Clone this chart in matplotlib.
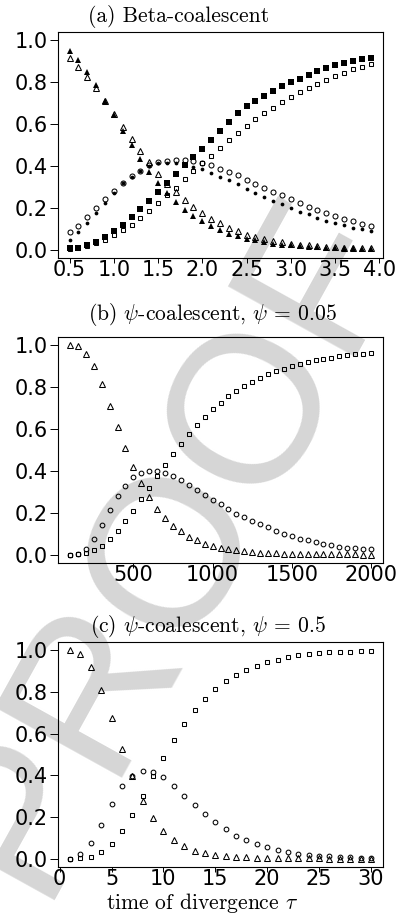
import matplotlib
matplotlib.use("Agg")
import matplotlib.pyplot as plt

# (a) Beta-coalescent
tau_a = [0.5, 0.6, 0.7, 0.8, 0.9, 1.0, 1.1, 1.2, 1.3, 1.4, 1.5, 1.6, 1.7, 1.8, 1.9,
         2.0, 2.1, 2.2, 2.3, 2.4, 2.5, 2.6, 2.7, 2.8, 2.9, 3.0, 3.1, 3.2, 3.3, 3.4,
         3.5, 3.6, 3.7, 3.8, 3.9]
tri_fill_a = [0.947, 0.904, 0.849, 0.785, 0.712, 0.642, 0.568, 0.498, 0.432, 0.373,
              0.318, 0.270, 0.227, 0.189, 0.160, 0.136, 0.112, 0.093, 0.077, 0.064,
              0.053, 0.045, 0.037, 0.029, 0.024, 0.020, 0.017, 0.014, 0.012, 0.010,
              0.008, 0.007, 0.006, 0.005, 0.004]
tri_open_a = [0.914, 0.874, 0.825, 0.772, 0.712, 0.647, 0.585, 0.530, 0.469, 0.418,
              0.363, 0.315, 0.275, 0.237, 0.205, 0.173, 0.147, 0.125, 0.104, 0.088,
              0.072, 0.061, 0.050, 0.042, 0.035, 0.029, 0.024, 0.020, 0.017, 0.014,
              0.012, 0.010, 0.008, 0.007, 0.006]
circ_fill_a = [0.048, 0.085, 0.125, 0.176, 0.224, 0.272, 0.317, 0.349, 0.378, 0.400,
               0.413, 0.414, 0.416, 0.410, 0.397, 0.384, 0.366, 0.349, 0.331, 0.312,
               0.291, 0.272, 0.251, 0.232, 0.216, 0.200, 0.182, 0.168, 0.152, 0.139,
               0.128, 0.117, 0.105, 0.097, 0.090]
circ_open_a = [0.083, 0.115, 0.154, 0.197, 0.240, 0.279, 0.317, 0.350, 0.378, 0.405,
               0.417, 0.423, 0.428, 0.430, 0.424, 0.413, 0.403, 0.387, 0.371, 0.355,
               0.335, 0.315, 0.296, 0.277, 0.259, 0.240, 0.223, 0.205, 0.188, 0.173,
               0.160, 0.147, 0.136, 0.124, 0.113]
sq_fill_a = [0.006, 0.010, 0.021, 0.038, 0.061, 0.088, 0.120, 0.154, 0.193, 0.233,
             0.276, 0.318, 0.362, 0.405, 0.445, 0.483, 0.524, 0.569, 0.611, 0.655,
             0.684, 0.712, 0.736, 0.759, 0.781, 0.800, 0.817, 0.836, 0.853, 0.869,
             0.882, 0.893, 0.901, 0.909, 0.914]
sq_open_a = [0.003, 0.008, 0.018, 0.030, 0.048, 0.069, 0.093, 0.120, 0.149, 0.184,
             0.224, 0.259, 0.296, 0.336, 0.376, 0.416, 0.449, 0.485, 0.522, 0.556,
             0.590, 0.623, 0.655, 0.679, 0.704, 0.731, 0.752, 0.772, 0.793, 0.812,
             0.830, 0.846, 0.861, 0.872, 0.885]

# (b) psi-coalescent, psi = 0.05
tau_b = [100, 150, 200, 250, 300, 350, 400, 450, 500, 550, 600, 650, 700, 750, 800,
         850, 900, 950, 1000, 1050, 1100, 1150, 1200, 1250, 1300, 1350, 1400, 1450,
         1500, 1550, 1600, 1650, 1700, 1750, 1800, 1850, 1900, 1950, 2000]
tri_b = [1.000, 0.995, 0.960, 0.900, 0.814, 0.712, 0.608, 0.510, 0.419, 0.342, 0.275,
         0.220, 0.175, 0.139, 0.111, 0.084, 0.068, 0.053, 0.042, 0.033, 0.026, 0.021,
         0.017, 0.013, 0.010, 0.008, 0.006, 0.005, 0.004, 0.003, 0.003, 0.002, 0.002,
         0.001, 0.001, 0.001, 0.001, 0.000, 0.000]
circ_b = [0.000, 0.005, 0.029, 0.076, 0.143, 0.212, 0.279, 0.330, 0.369, 0.392, 0.401,
          0.401, 0.392, 0.377, 0.358, 0.334, 0.310, 0.287, 0.263, 0.240, 0.218, 0.196,
          0.178, 0.163, 0.146, 0.130, 0.114, 0.100, 0.088, 0.077, 0.068, 0.059, 0.051,
          0.044, 0.038, 0.034, 0.030, 0.027, 0.025]
sq_b = [0.000, 0.002, 0.008, 0.020, 0.041, 0.073, 0.113, 0.159, 0.209, 0.264, 0.320,
        0.376, 0.430, 0.479, 0.529, 0.576, 0.619, 0.657, 0.694, 0.726, 0.757, 0.782,
        0.807, 0.826, 0.845, 0.865, 0.878, 0.889, 0.900, 0.912, 0.921, 0.929, 0.937,
        0.942, 0.948, 0.952, 0.957, 0.961, 0.965]

# (c) psi-coalescent, psi = 0.5
tau_c = [1, 2, 3, 4, 5, 6, 7, 8, 9, 10, 11, 12, 13, 14, 15,
         16, 17, 18, 19, 20, 21, 22, 23, 24, 25, 26, 27, 28, 29, 30]
tri_c = [1.000, 0.982, 0.920, 0.811, 0.674, 0.528, 0.398, 0.278, 0.195, 0.131, 0.088,
         0.059, 0.038, 0.027, 0.019, 0.014, 0.010, 0.007, 0.005, 0.003, 0.002, 0.002,
         0.001, 0.001, 0.001, 0.000, 0.000, 0.000, 0.000, 0.000]
circ_c = [0.000, 0.022, 0.075, 0.163, 0.261, 0.347, 0.398, 0.422, 0.414, 0.390, 0.347,
          0.302, 0.256, 0.214, 0.174, 0.142, 0.110, 0.091, 0.072, 0.056, 0.043, 0.032,
          0.024, 0.019, 0.014, 0.011, 0.008, 0.006, 0.004, 0.003]
sq_c = [0.000, 0.003, 0.010, 0.032, 0.070, 0.131, 0.211, 0.299, 0.398, 0.485, 0.571,
        0.645, 0.712, 0.768, 0.814, 0.851, 0.883, 0.907, 0.926, 0.942, 0.955, 0.966,
        0.976, 0.982, 0.987, 0.990, 0.992, 0.994, 0.995, 0.996]

xticks_a = [0.5, 1.0, 1.5, 2.0, 2.5, 3.0, 3.5, 4.0]
xticks_b = [500, 1000, 1500, 2000]
xticks_c = [0, 5, 10, 15, 20, 25, 30]
yticks = [0.0, 0.2, 0.4, 0.6, 0.8, 1.0]

plt.rcParams['mathtext.fontset'] = 'cm'
plt.rcParams['font.family'] = 'DejaVu Sans'
W, H = 398, 924
fig = plt.figure(figsize=(W / 100, H / 100), dpi=100)

# light "PROOF" watermark behind everything
fig.text(172 / W, 1 - 545 / H, 'PROOF', rotation=61, fontsize=152,
         color='#d6d6d6', ha='center', va='center', family='Liberation Sans',
         rotation_mode='anchor', zorder=-5)


def make_ax(top, bottom):
    ax = fig.add_axes([58 / W, 1 - bottom / H, 325 / W, (bottom - top) / H])
    ax.set_facecolor('none')
    for s in ax.spines.values():
        s.set_linewidth(0.8)
    ax.set_ylim(-0.04, 1.04)
    ax.set_yticks(yticks)
    ax.set_yticklabels([f'{v:.1f}' for v in yticks])
    ax.tick_params(axis='y', direction='out', length=5.8, width=0.7, labelsize=15, pad=1.5)
    ax.tick_params(axis='x', direction='out', length=3.5, width=0.7, labelsize=15, pad=-2)
    return ax


def pts(ax, x, y, marker, ms, filled):
    if filled:
        ax.plot(x, y, ls='none', marker=marker, ms=ms, mfc='black', mec='black', mew=0)
    else:
        ax.plot(x, y, ls='none', marker=marker, ms=ms, mfc='none', mec='black', mew=0.75)


title_kw = dict(family='cmr10', fontsize=15.5, ha='left', va='center')

# panel (a)
ax = make_ax(32, 258)
pts(ax, tau_a, tri_open_a, '^', 4.0, False)
pts(ax, tau_a, tri_fill_a, '^', 4.0, True)
pts(ax, tau_a, circ_open_a, 'o', 3.6, False)
pts(ax, tau_a, circ_fill_a, 'o', 2.7, True)
pts(ax, tau_a, sq_open_a, 's', 3.3, False)
pts(ax, tau_a, sq_fill_a, 's', 3.8, True)
ax.set_xlim(0.37, 4.04)
ax.set_xticks(xticks_a)
ax.set_xticklabels([f'{v:.1f}' for v in xticks_a])
fig.text(88 / W, 1 - 17 / H, '(a) Beta-coalescent', **title_kw)

# panel (b)
ax = make_ax(337, 563)
pts(ax, tau_b, tri_b, '^', 3.8, False)
pts(ax, tau_b, circ_b, 'o', 3.4, False)
pts(ax, tau_b, sq_b, 's', 3.2, False)
ax.set_xlim(24, 2076)
ax.set_xticks(xticks_b)
ax.set_xticklabels([str(v) for v in xticks_b])
fig.text(88 / W, 1 - 315 / H, r'(b) $\psi$-coalescent, $\psi$ = 0.05', **title_kw)

# panel (c)
ax = make_ax(642, 867)
pts(ax, tau_c, tri_c, '^', 3.8, False)
pts(ax, tau_c, circ_c, 'o', 3.4, False)
pts(ax, tau_c, sq_c, 's', 3.2, False)
ax.set_xlim(-0.16, 31.16)
ax.set_xticks(xticks_c)
ax.set_xticklabels([str(v) for v in xticks_c])
fig.text(90 / W, 1 - 626 / H, r'(c) $\psi$-coalescent, $\psi$ = 0.5', **title_kw)

fig.text(202 / W, 1 - 903 / H, r'time of divergence $\tau$', family='cmr10',
         fontsize=15.5, ha='center', va='center')

fig.savefig('out.png', dpi=100, facecolor='white')
